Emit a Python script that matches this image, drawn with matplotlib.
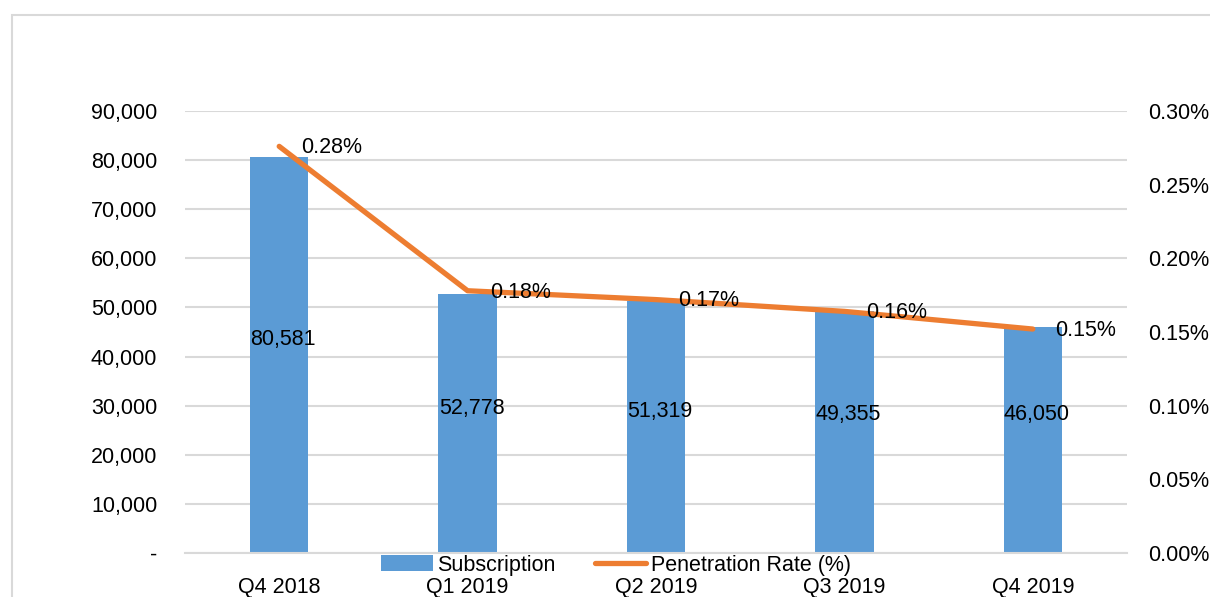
import matplotlib.pyplot as plt
from matplotlib.patches import Rectangle
from matplotlib.ticker import FuncFormatter

plt.rcParams['font.family'] = ['Liberation Sans', 'DejaVu Sans']

# data
quarters = ['Q4 2018', 'Q1 2019', 'Q2 2019', 'Q3 2019', 'Q4 2019']
subscription = [80581, 52778, 51319, 49355, 46050]
penetration = [0.276, 0.178, 0.172, 0.164, 0.152]  # percent
pen_labels = ['0.28%', '0.18%', '0.17%', '0.16%', '0.15%']

bar_color = '#5B9BD5'
line_color = '#ED7D31'
grid_color = '#D9D9D9'
fs = 15.5

fig = plt.figure(figsize=(12.1, 5.97), dpi=100)
ax = fig.add_axes([185 / 1210, 1 - 553 / 597, 942 / 1210, 442 / 597])
ax2 = ax.twinx()

# outer chart border (cropped on right/bottom)
fig.patches.append(Rectangle((12 / 1210, -0.1), 1.2, 1 - 15 / 597 + 0.1,
                             transform=fig.transFigure, fill=False,
                             edgecolor=grid_color, linewidth=1.5))

x = list(range(len(quarters)))
bars = ax.bar(x, subscription, width=0.31, color=bar_color, zorder=2,
              label='Subscription')
ax.set_ylim(0, 90000)
ax.set_xlim(-0.5, len(quarters) - 0.5)
ax.set_yticks(range(0, 90001, 10000))
ax.yaxis.set_major_formatter(FuncFormatter(
    lambda v, p: '-' if v == 0 else f'{int(v):,}'))
ax.grid(axis='y', color=grid_color, linewidth=1.5, zorder=0)
ax.set_axisbelow(True)
ax.set_xticks(x)
ax.set_xticklabels(quarters)
ax.tick_params(axis='y', length=0, pad=20, labelsize=fs)
ax.tick_params(axis='x', length=0, pad=17, labelsize=fs)
for s in ['left', 'right', 'top']:
    ax.spines[s].set_visible(False)
ax.spines['bottom'].set_color(grid_color)
ax.spines['bottom'].set_linewidth(1.5)

# bar value labels (roughly mid-bar, nudged up as in the original)
for xi, v in zip(x, subscription):
    ax.annotate(f'{v:,}', (xi, max(v, 50000) / 2), xytext=(3, 11),
                textcoords='offset points', ha='center', va='center',
                fontsize=fs, zorder=5)

line, = ax2.plot(x, penetration, color=line_color, linewidth=3.8,
                 solid_capstyle='round', label='Penetration Rate (%)', zorder=3)
ax2.set_ylim(0, 0.30)
ax2.set_yticks([0, 0.05, 0.10, 0.15, 0.20, 0.25, 0.30])
ax2.yaxis.set_major_formatter(FuncFormatter(lambda v, p: f'{v:.2f}%'))
ax2.tick_params(axis='y', length=0, pad=15, labelsize=fs)
for s in ['left', 'right', 'top', 'bottom']:
    ax2.spines[s].set_visible(False)

for xi, v, lab in zip(x, penetration, pen_labels):
    ax2.annotate(lab, (xi, v), xytext=(16, -1), textcoords='offset points',
                 ha='left', va='center', fontsize=fs)

fig.legend([bars, line], ['Subscription', 'Penetration Rate (%)'],
           loc='center', bbox_to_anchor=(616 / 1210, 1 - 565 / 597),
           ncol=2, frameon=False, fontsize=fs, handlelength=2.4,
           handletextpad=0.2, columnspacing=1.8, borderpad=0,
           borderaxespad=0)

fig.savefig('out.png', dpi=100)
